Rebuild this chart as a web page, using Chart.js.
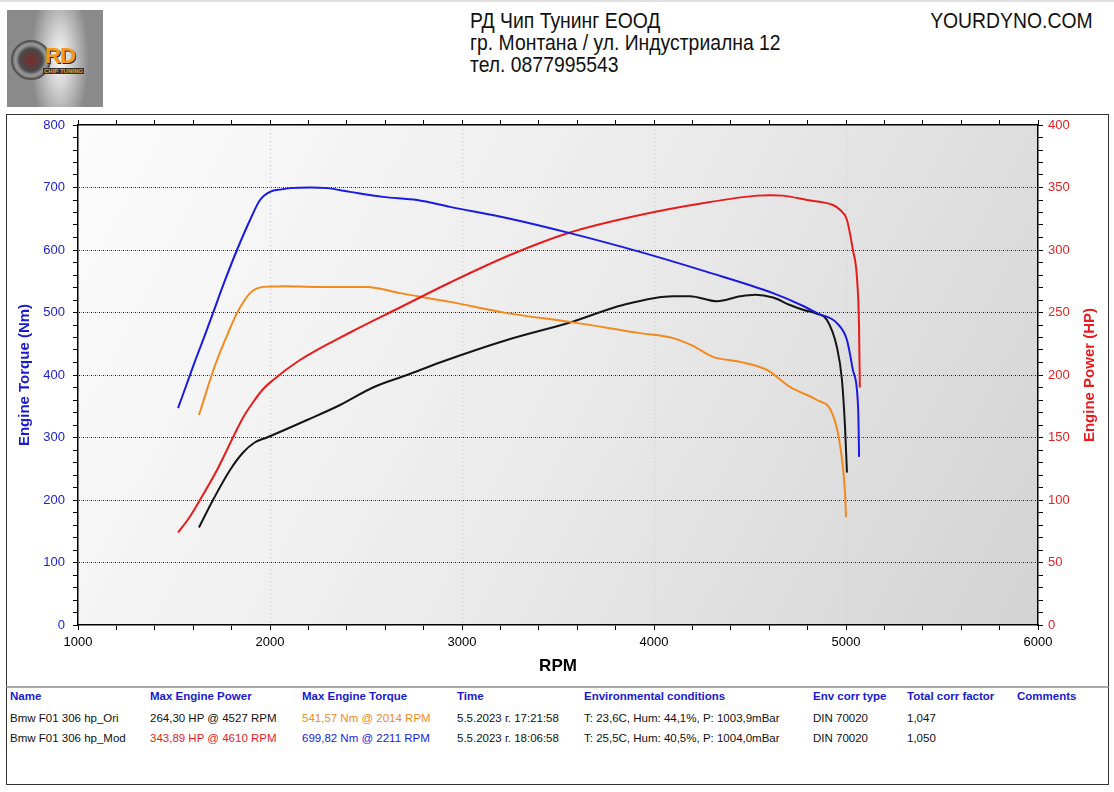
<!DOCTYPE html>
<html><head><meta charset="utf-8">
<script src="https://cdn.jsdelivr.net/npm/chart.js@4.4.1/dist/chart.umd.min.js"></script>
<style>
html,body{margin:0;padding:0;background:#fff;}
body{width:1114px;height:792px;position:relative;overflow:hidden;font-family:"Liberation Sans",Arial,sans-serif;}
.topline{position:absolute;left:0;top:0;width:1114px;height:2px;background:#e0e0e0;}
#logo{position:absolute;left:7px;top:10px;width:96px;height:97px;overflow:hidden;
 background:radial-gradient(ellipse 30% 80% at 55% 50%,#fafafa 0%,#d0d0d0 40%,#8a8a8a 100%);}
#logo .turbo{position:absolute;left:4px;top:30px;width:36px;height:36px;border-radius:50%;
 background:radial-gradient(circle,#7a2a2a 0%,#4a4a4a 45%,#999 60%,#333 100%);border:2px solid #555;}
#logo .rd{position:absolute;left:38px;top:33px;font:bold 22px "Liberation Sans",Arial;color:#f39a1a;letter-spacing:-1px;text-shadow:1px 1px 0 #222;}
#logo .ct{position:absolute;left:36px;top:58px;font:bold 6px "Liberation Sans",Arial;color:#f39a1a;background:#333;padding:0 1px;}
.hdr{position:absolute;left:470px;font-family:"Liberation Sans",Arial,sans-serif;font-size:22px;line-height:22px;color:#111;white-space:nowrap;transform:scaleX(0.88);transform-origin:0 0;}
.hdr.r{left:auto;right:21px;transform-origin:100% 0;}
#box{position:absolute;left:6px;top:114px;width:1103px;height:573px;border:1px solid #333;box-sizing:border-box;}
#cw{position:absolute;left:7px;top:105px;width:1100px;height:581px;}
#tbl{position:absolute;left:6px;top:686px;width:1103px;height:99px;border:1px solid #333;border-top:2px solid #a8a8a8;box-sizing:border-box;}
.c{position:absolute;font-size:11.5px;line-height:14px;white-space:nowrap;color:#111;}
.h{font-weight:bold;color:#1a1ad2;}
</style></head>
<body>
<div class="topline"></div>
<div id="logo"><div class="turbo"></div><div class="rd">RD</div><div class="ct">CHIP TUNING</div></div>
<div class="hdr" style="top:10px">РД Чип Тунинг ЕООД</div>
<div class="hdr" style="top:32px">гр. Монтана / ул. Индустриална 12</div>
<div class="hdr" style="top:54px">тел. 0877995543</div>
<div class="hdr r" style="top:10px">YOURDYNO.COM</div>
<div id="box"></div>
<div id="cw"><canvas id="c" width="1100" height="581"></canvas></div>
<div id="tbl"></div>
<script>
// ---- data ----
const modTorqueRpm = [1521,1560,1608,1660,1703,1760,1828,1896,1948,2000,2060,2104,2211,2297,2417,2589,2766,2938,3250,3562,3927,4276,4620,4780,4849,4953,5005,5036,5063,5066,5068];
const modTorqueNm  = [347,380,421,463,499,547,600,648,680,693,697,699,700,699,693,685,680,669,650,627,597,565,531,510,499,483,456,408,349,310,269];

const modPowerRpm = [1521,1580,1635,1724,1807,1860,1911,1960,2016,2156,2417,2677,2938,3250,3562,3927,4276,4536,4610,4672,4797,4932,4970,5005,5036,5057,5068,5072];
const modPowerHp  = [74,86,100,124,150,166,178,188,196,212,234,254,274,296,314,328,338,343.5,343.9,343.5,340,336,332,324,300,278,238,190];

const oriTorqueRpm = [1630,1660,1688,1724,1780,1828,1896,1964,2014,2068,2245,2505,2677,2938,3234,3562,3927,4099,4200,4307,4448,4589,4708,4849,4920,4958,4984,4995,5000];
const oriTorqueNm  = [336,365,392,424,466,499,531,541,541.6,542,541,541,531,517,499,485,467,459,447,429,421,408,381,360,344,307,253,210,173];

const oriPowerRpm = [1630,1703,1792,1860,1920,1984,2193,2365,2536,2714,2885,3234,3562,3839,4099,4187,4328,4450,4527,4620,4708,4780,4849,4901,4953,4979,4995,5005];
const oriPowerHp  = [78,100,124,138,146,150,164,176,190,200,210,228,242,256,263,263,259,263,264.3,262,256,252,249,244,222,196,158,122];

const rpmTicks    = [1000,2000,3000,4000,5000,6000];
const torqueTicks = [0,100,200,300,400,500,600,700,800];
const powerTicks  = [0,50,100,150,200,250,300,350,400];

const BLUE = '#1a1ae0', RED = '#e81c1c', ORANGE = '#f28a1e', BLACK = '#151515';

function pts(xs, ys){ return xs.map((x,i)=>({x:x, y:ys[i]})); }

// dotted red/black grid pattern
const pc = document.createElement('canvas'); pc.width = 4; pc.height = 1;
const pctx = pc.getContext('2d');
pctx.fillStyle = '#1a1a1a'; pctx.fillRect(0,0,1,1);
pctx.fillStyle = '#e05050'; pctx.fillRect(2,0,1,1);
const ctx0 = document.getElementById('c').getContext('2d');
const gridPattern = ctx0.createPattern(pc, 'repeat');

const bgPlugin = {
  id: 'bg',
  beforeDraw(chart){
    const {ctx, chartArea:a} = chart;
    const g = ctx.createLinearGradient(a.left, a.top, a.right, a.bottom);
    g.addColorStop(0, '#fcfcfc');
    g.addColorStop(0.5, '#ebebeb');
    g.addColorStop(1, '#d3d3d3');
    ctx.save(); ctx.fillStyle = g; ctx.fillRect(a.left, a.top, a.right-a.left, a.bottom-a.top); ctx.restore();
  },
  afterDraw(chart){
    const {ctx, chartArea:a} = chart;
    ctx.save();
    ctx.translate(1083, (a.top + a.bottom)/2);
    ctx.rotate(-Math.PI/2);
    ctx.font = 'bold 15px "Liberation Sans", Arial, sans-serif';
    ctx.fillStyle = RED; ctx.textAlign = 'center'; ctx.textBaseline = 'middle';
    ctx.fillText('Engine Power (HP)', 0, 0);
    ctx.restore();
  }
};

const tickFont = {family:'"Liberation Sans", Arial, sans-serif', size:13};

new Chart(ctx0, {
  type: 'line',
  data: {
    datasets: [
      {label:'Mod torque', data: pts(modTorqueRpm, modTorqueNm), borderColor: BLUE, yAxisID:'y'},
      {label:'Mod power', data: pts(modPowerRpm, modPowerHp), borderColor: RED, yAxisID:'y2'},
      {label:'Ori torque', data: pts(oriTorqueRpm, oriTorqueNm), borderColor: ORANGE, yAxisID:'y'},
      {label:'Ori power', data: pts(oriPowerRpm, oriPowerHp), borderColor: BLACK, yAxisID:'y2'}
    ]
  },
  options: {
    responsive: false,
    animation: false,
    layout: {padding: 0},
    elements: {
      point: {radius: 0},
      line: {borderWidth: 2, cubicInterpolationMode: 'monotone', fill: false}
    },
    plugins: {legend: {display:false}, tooltip: {enabled:false}},
    scales: {
      x: {
        type: 'linear', position: 'bottom', min: 1000, max: 6000,
        afterFit(s){ s.height = 61; },
        ticks: {stepSize: 200, autoSkip: false, maxRotation: 0, color: '#000', font: tickFont, padding: 5,
          callback: v => rpmTicks.includes(v) ? String(v) : ''},
        grid: {
          color: c => (c.tick && c.tick.value % 1000 === 0 && c.tick.value > 1000 && c.tick.value < 6000) ? '#c4c4c4' : 'transparent',
          tickColor: '#000', tickLength: 5, lineWidth: 1
        },
        border: {display: true, color: '#000', width: 1.5, dash: [1,3]},
        title: {display: true, text: 'RPM', color: '#000', font: {family:'"Liberation Sans", Arial, sans-serif', size: 17, weight: 'bold'}, padding: {top: 0, bottom: 9}}
      },
      x2: {
        type: 'linear', position: 'top', min: 1000, max: 6000,
        afterFit(s){ s.height = 20; },
        ticks: {stepSize: 200, autoSkip: false, display: false},
        grid: {drawOnChartArea: false, tickColor: '#000', tickLength: 5, color: '#000'},
        border: {display: true, color: '#000', width: 1.5}
      },
      y: {
        type: 'linear', position: 'left', min: 0, max: 800,
        afterFit(s){ s.width = 71; },
        ticks: {stepSize: 20, autoSkip: false, color: '#2222cc', font: tickFont, padding: 8,
          callback: v => torqueTicks.includes(v) ? String(v) : ''},
        grid: {
          color: c => (c.tick && c.tick.value % 100 === 0 && c.tick.value > 0 && c.tick.value < 800) ? gridPattern : 'transparent',
          tickColor: '#000', tickLength: 5, lineWidth: 1
        },
        border: {display: true, color: '#000', width: 1.5},
        title: {display: true, text: 'Engine Torque (Nm)', color: '#1a1ad2', font: {family:'"Liberation Sans", Arial, sans-serif', size: 15, weight: 'bold'}, padding: {top: 9, bottom: 0}}
      },
      y2: {
        type: 'linear', position: 'right', min: 0, max: 400,
        afterFit(s){ s.width = 69; },
        ticks: {stepSize: 10, autoSkip: false, color: '#e52222', font: tickFont, padding: 5,
          callback: v => powerTicks.includes(v) ? String(v) : ''},
        grid: {drawOnChartArea: false, tickColor: '#000', tickLength: 5, color: '#000'},
        border: {display: true, color: '#000', width: 1.5}
      }
    }
  },
  plugins: [bgPlugin]
});

// ---- results table ----
const colX = [3,143,295,450,577,806,900,1010];
const headers = ['Name','Max Engine Power','Max Engine Torque','Time','Environmental conditions','Env corr type','Total corr factor','Comments'];
const rows = [
  {cells:['Bmw F01 306 hp_Ori','264,30 HP @ 4527 RPM','541,57 Nm @ 2014 RPM','5.5.2023 г. 17:21:58','T: 23,6C, Hum: 44,1%, P: 1003,9mBar','DIN 70020','1,047',''], colors:['#111','#111',ORANGE,'#111','#111','#111','#111','#111']},
  {cells:['Bmw F01 306 hp_Mod','343,89 HP @ 4610 RPM','699,82 Nm @ 2211 RPM','5.5.2023 г. 18:06:58','T: 25,5C, Hum: 40,5%, P: 1004,0mBar','DIN 70020','1,050',''], colors:['#111',RED,BLUE,'#111','#111','#111','#111','#111']}
];
const tbl = document.getElementById('tbl');
headers.forEach((h,i)=>{ const d=document.createElement('div'); d.className='c h'; d.style.left=colX[i]+'px'; d.style.top='1px'; d.textContent=h; tbl.appendChild(d); });
rows.forEach((r,ri)=>{ r.cells.forEach((t,i)=>{ const d=document.createElement('div'); d.className='c'; d.style.left=colX[i]+'px'; d.style.top=(23+ri*20)+'px'; d.style.color=r.colors[i]; d.textContent=t; tbl.appendChild(d); }); });
</script>
</body></html>
